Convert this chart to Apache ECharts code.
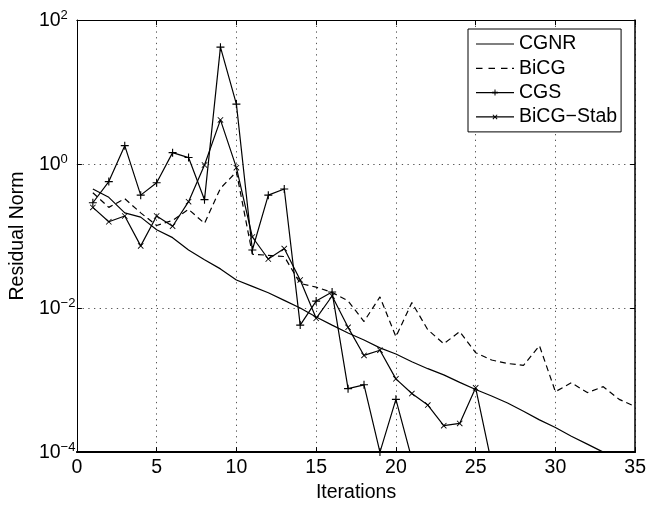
<!DOCTYPE html>
<html>
<head>
<meta charset="utf-8">
<script src="https://cdn.jsdelivr.net/npm/echarts@6/dist/echarts.min.js"></script>
<style>
  html, body { margin: 0; padding: 0; background: #fff; }
  #chart { width: 649px; height: 508px; }
</style>
</head>
<body>
<div id="chart"></div>
<script>
// Residual norm per iteration for four Krylov solvers
const iterations = [1, 2, 3, 4, 5, 6, 7, 8, 9, 10, 11, 12, 13, 14, 15, 16, 17, 18, 19, 20,
                    21, 22, 23, 24, 25, 26, 27, 28, 29, 30, 31, 32, 33, 34, 35];
const cgnr = [0.45, 0.345, 0.21, 0.183, 0.122, 0.095, 0.064, 0.047, 0.035, 0.0245,
              0.02, 0.0163, 0.0128, 0.01, 0.0075, 0.0058, 0.0045, 0.0036, 0.0028, 0.0023,
              0.0018, 0.00144, 0.00118, 0.00093, 0.00074, 0.0006, 0.00048, 0.00037, 0.00028, 0.00022,
              0.000166, 0.000129, 0.0001, 0.000078, 0.00006];
const bicg = [0.40, 0.25, 0.33, 0.21, 0.14, 0.165, 0.235, 0.15, 0.46, 0.78,
              0.056, 0.054, 0.052, 0.022, 0.0195, 0.0165, 0.0126, 0.0065, 0.0143, 0.004,
              0.0119, 0.005, 0.0032, 0.0047, 0.0024, 0.0019, 0.0017, 0.0016, 0.003, 0.00069,
              0.00092, 0.00067, 0.00081, 0.00054, 0.00043];
const cgs = [0.29, 0.57, 1.8, 0.37, 0.55, 1.44, 1.23, 0.32, 42, 6.8,
             0.064, 0.37, 0.45, 0.0058, 0.0125, 0.0167, 0.00076, 0.00086, 0.0001, 0.00054,
             0.00008];
const bicgstab = [0.25, 0.158, 0.19, 0.073, 0.19, 0.137, 0.30, 0.97, 4.1, 0.89,
                  0.097, 0.048, 0.067, 0.0246, 0.0072, 0.0147, 0.0054, 0.0022, 0.0026, 0.00104,
                  0.00065, 0.00045, 0.000233, 0.00025, 0.00078, 0.00007];

const seriesNames = ['CGNR', 'BiCG', 'CGS', 'BiCG\u2212Stab'];
const xRange = { min: 0, max: 35, step: 5 };
const yRange = { min: 1e-4, max: 1e2, stepDecades: 2 };

const FONT = 'Liberation Sans, Arial, Helvetica, sans-serif';
const FS = 19.5;

// stroked-looking marker shapes built from filled bars
const plusPath = 'path://M0,4.3H10V5.7H0Z M4.3,0H5.7V10H4.3Z';
const crossPath = 'path://M0,1L1,0L10,9L9,10Z M9,0L10,1L1,10L0,9Z';

// legend keys in a 38x12 box; the two specks pin the box size
const keyBox = 'M0,0H0.01V0.01H0Z M37.99,11.99H38V12H37.99Z ';
const keyLine = 'M0,5.4H38V6.6H0Z ';
const legendKeys = [
  'path://' + keyBox + keyLine,
  'path://' + keyBox + 'M0,5.4H6.5V6.6H0Z M12.5,5.4H19V6.6H12.5Z M25,5.4H31.5V6.6H25Z M36,5.4H38V6.6H36Z',
  'path://' + keyBox + keyLine + 'M18.5,3H19.5V9H18.5Z M16,5.2H22V6.8H16Z',
  'path://' + keyBox + keyLine + 'M16.5,4.2L17.2,3.5L21.5,7.8L20.8,8.5Z M20.8,3.5L21.5,4.2L17.2,8.5L16.5,7.8Z'
];

const pairs = (vals) => vals.map((v, i) => [iterations[i], v]);

function powerLabel(v) {
  const e = Math.round(Math.log10(v));
  const exp = e < 0 ? '\u2212' + (-e) : String(e);
  return '{b|10}{s|' + exp + '}';
}

const chart = echarts.init(document.getElementById('chart'), null, { renderer: 'canvas' });

const gridLine = { show: true, lineStyle: { color: '#555', width: 1, type: [1.3, 4.4] } };

chart.setOption({
  animation: false,
  backgroundColor: '#fff',
  grid: { left: 73, right: 13, top: 20, bottom: 51, containLabel: false },
  legend: {
    orient: 'vertical',
    left: 468,
    top: 29,
    padding: [5, 4, 5, 8],
    backgroundColor: '#fff',
    borderColor: '#000',
    borderWidth: 1,
    itemWidth: 38,
    itemHeight: 12,
    itemGap: 4.3,
    textStyle: { fontFamily: FONT, fontSize: FS, color: '#000', lineHeight: 20 },
    data: seriesNames.map((name, i) => ({
      name: name,
      icon: legendKeys[i],
      itemStyle: { color: '#000', borderWidth: 0 }
    }))
  },
  xAxis: [
    {
      type: 'value', position: 'bottom',
      min: xRange.min, max: xRange.max, interval: xRange.step,
      name: 'Iterations', nameLocation: 'middle', nameGap: 26,
      nameTextStyle: { fontFamily: FONT, fontSize: FS, color: '#000' },
      axisLine: { show: true, onZero: false, lineStyle: { color: '#000', width: 2 } },
      axisTick: { show: true, inside: true, length: 5, lineStyle: { color: '#000' } },
      axisLabel: { fontFamily: FONT, fontSize: FS, color: '#000', margin: 6 },
      splitLine: gridLine
    },
    {
      type: 'value', position: 'top',
      min: xRange.min, max: xRange.max, interval: xRange.step,
      axisLine: { show: true, onZero: false, lineStyle: { color: '#000', width: 1 } },
      axisTick: { show: true, inside: true, length: 5, lineStyle: { color: '#000' } },
      axisLabel: { show: false },
      splitLine: { show: false }
    }
  ],
  yAxis: [
    {
      type: 'log', logBase: 10, position: 'left',
      min: yRange.min, max: yRange.max, interval: yRange.stepDecades,
      name: 'Residual Norm', nameLocation: 'middle', nameGap: 47,
      nameTextStyle: { fontFamily: FONT, fontSize: FS, color: '#000' },
      axisLine: { show: true, onZero: false, lineStyle: { color: '#000', width: 1 } },
      axisTick: { show: true, inside: true, length: 5, lineStyle: { color: '#000' } },
      minorTick: { show: false },
      axisLabel: {
        margin: 38, align: 'left', color: '#000',
        formatter: powerLabel,
        rich: {
          b: { fontFamily: FONT, fontSize: FS, color: '#000', lineHeight: 22, verticalAlign: 'bottom' },
          s: { fontFamily: FONT, fontSize: 13, color: '#000', lineHeight: 14, verticalAlign: 'top' }
        }
      },
      splitLine: gridLine
    },
    {
      type: 'log', logBase: 10, position: 'right',
      min: yRange.min, max: yRange.max, interval: yRange.stepDecades,
      axisLine: { show: true, onZero: false, lineStyle: { color: '#000', width: 1.5 } },
      axisTick: { show: true, inside: true, length: 5, lineStyle: { color: '#000' } },
      axisLabel: { show: false },
      splitLine: { show: false }
    }
  ],
  series: [
    {
      name: seriesNames[0], type: 'line', data: pairs(cgnr),
      symbol: 'none', clip: true,
      lineStyle: { color: '#000', width: 1.2, type: 'solid' },
      itemStyle: { color: '#000' }
    },
    {
      name: seriesNames[1], type: 'line', data: pairs(bicg),
      symbol: 'none', clip: true,
      lineStyle: { color: '#000', width: 1.2, type: [6, 4] },
      itemStyle: { color: '#000' }
    },
    {
      name: seriesNames[2], type: 'line', data: pairs(cgs),
      symbol: plusPath, symbolSize: 8, clip: true,
      lineStyle: { color: '#000', width: 1.2, type: 'solid' },
      itemStyle: { color: '#000' }
    },
    {
      name: seriesNames[3], type: 'line', data: pairs(bicgstab),
      symbol: crossPath, symbolSize: 6, clip: true,
      lineStyle: { color: '#000', width: 1.2, type: 'solid' },
      itemStyle: { color: '#000' }
    }
  ]
});
</script>
</body>
</html>
